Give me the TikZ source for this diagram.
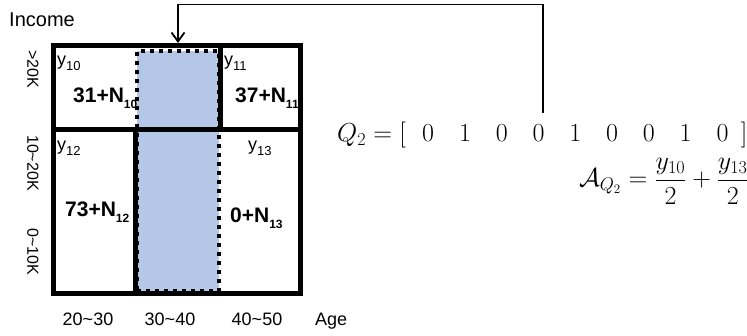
\RequirePackage{fix-cm}
\documentclass[tikz,border=0pt]{standalone}
\usepackage[no-math]{fontspec}
\newfontfamily\arial{Liberation Sans}
\usetikzlibrary{arrows.meta}

\definecolor{qblue}{RGB}{180,199,231}

% subscripted cell labels
\newcommand{\ysub}[1]{y\raisebox{-5pt}{\fontsize{13}{13}\selectfont #1}}
\newcommand{\nsub}[2]{#1\raisebox{-6pt}{\fontsize{12}{12}\selectfont #2}}
% one entry of the query vector, on a fixed pitch
\newcommand{\qcell}[1]{\makebox[36.8pt]{$#1$}}

\tikzset{
  grid/.style={line width=5pt, line cap=rect},
  query/.style={fill=qblue, draw=black, line width=4pt,
                dash pattern=on 4pt off 5pt, inner sep=0pt},
  conn/.style={line width=1.8pt, -{Straight Barb[length=9pt,width=13pt,line width=1.8pt]}},
  side/.style={font=\arial\fontsize{16}{16}\selectfont, inner sep=0pt, rotate=-90},
  axis/.style={font=\arial\fontsize{18}{18}\selectfont, inner sep=0pt, anchor=base},
  ylab/.style={font=\arial\fontsize{18}{18}\selectfont, inner sep=0pt, anchor=base west},
  cnt/.style={font=\arial\bfseries\fontsize{21}{21}\selectfont, inner sep=0pt, anchor=base west},
  eqn/.style={font=\fontsize{26}{31}\selectfont, inner sep=0pt}
}

\begin{document}
\begin{tikzpicture}[x=1pt, y=-1pt]
\useasboundingbox (0,0) rectangle (747,336);

% axis titles and ranges
\node[anchor=base west, font=\arial\fontsize{20}{20}\selectfont, inner sep=0pt] (income) at (9,27) {Income};
\node[side] (r1) at (33,69) {>20K};
\node[side] (r2) at (33,163) {10\textasciitilde20K};
\node[side] (r3) at (33,252) {0\textasciitilde10K};
\node[axis] (c1) at (88,326) {20\textasciitilde30};
\node[axis] (c2) at (170,326) {30\textasciitilde40};
\node[axis] (c3) at (257,326) {40\textasciitilde50};
\node[axis, anchor=base west] (age) at (315,326) {Age};

% queried column
\node[query, minimum width=82pt, minimum height=240pt] (q) at (178,171) {};

% cell contents
\node[ylab] (y10) at (57,66) {\ysub{10}};
\node[ylab] (y11) at (224,66) {\ysub{11}};
\node[ylab] (y12) at (57,151) {\ysub{12}};
\node[ylab] (y13) at (248,151) {\ysub{13}};
\node[cnt] (n10) at (73,103) {\nsub{31+N}{10}};
\node[cnt] (n11) at (235,103) {\nsub{37+N}{11}};
\node[cnt] (n12) at (65,217) {\nsub{73+N}{12}};
\node[cnt] (n13) at (230,223) {\nsub{0+N}{13}};

% grid lines
\draw[grid] (53,46) rectangle (300,294);
\draw[grid] (53,129.5) -- (300,129.5);
\draw[grid] (220.5,46) -- (220.5,129.5);
\draw[grid] (135,129.5) -- (135,294);

% query vector and answer
\node[eqn, anchor=base west] (qlhs) at (337,142) {$Q_2 = [$};
\node[eqn, anchor=base west] (qrow) at (409.6,142)
  {\qcell0\qcell1\qcell0\qcell0\qcell1\qcell0\qcell0\qcell1\qcell0$]$};
\node[eqn, anchor=base east] (aq) at (749,187)
  {$\displaystyle\mathcal{A}_{Q_2} = \frac{y_{10}}{2} + \frac{y_{13}}{2}$};

% connector from the query vector to the column
\coordinate (src) at (543,113);
\coordinate (bend) at (178,4.5);
\coordinate (tip) at (178,43);
\draw[conn] (src) |- (bend) -- (tip);
\end{tikzpicture}
\end{document}
